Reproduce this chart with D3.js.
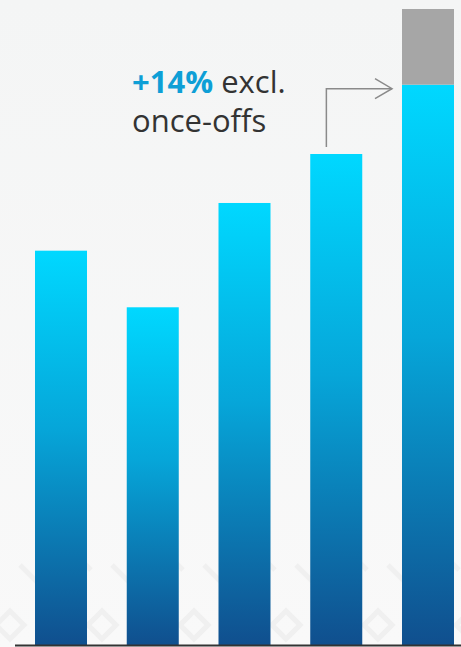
<!DOCTYPE html>
<html><head><meta charset="utf-8">
<script src="https://cdn.jsdelivr.net/npm/d3@7"></script>
<style>html,body{margin:0;padding:0;background:#f6f7f7;}svg{display:block;}</style>
</head><body>
<script>
const categories = ["Y1","Y2","Y3","Y4","Y5"];
const coreValues = [62.0, 53.1, 69.5, 77.2, 88.1];
const onceOffValues = [0, 0, 0, 0, 11.9];
const annotationBold = "+14%";
const annotationRest = " excl.";
const annotationLine2 = "once-offs";

const W = 461, H = 647;
const svg = d3.select("body").append("svg").attr("width", W).attr("height", H);
const defs = svg.append("defs");

const bg = defs.append("linearGradient").attr("id","bg").attr("x1",0).attr("y1",0).attr("x2",0).attr("y2",1);
bg.append("stop").attr("offset","0%").attr("stop-color","#f4f5f5");
bg.append("stop").attr("offset","100%").attr("stop-color","#f9f9f9");
svg.append("rect").attr("width",W).attr("height",H).attr("fill","url(#bg)");

// faint decorative pattern at bottom
const pat = svg.append("g").attr("stroke","#f0f0f0").attr("stroke-width",5).attr("fill","none");
for (let i = 0; i < 12; i++) {
  const cx = i*46 + 10, cy = 625 - (i%2)*20;
  pat.append("path").attr("d", `M${cx},${cy-14} L${cx+14},${cy} L${cx},${cy+14} L${cx-14},${cy} Z`);
  pat.append("path").attr("d", `M${cx+10},${cy-60} L${cx+35},${cy-35}`);
}

const grad = defs.append("linearGradient").attr("id","barGrad").attr("x1",0).attr("y1",0).attr("x2",0).attr("y2",1);
grad.append("stop").attr("offset","0%").attr("stop-color","#00d8ff");
grad.append("stop").attr("offset","45%").attr("stop-color","#06a6d9");
grad.append("stop").attr("offset","100%").attr("stop-color","#104f8e");

const x = d3.scaleBand().domain(categories).range([35, 454]).paddingInner(0.4332).paddingOuter(0);
const y = d3.scaleLinear().domain([0, 100]).range([645, 9]);

const data = categories.map((c,i)=>({c, core: coreValues[i], once: onceOffValues[i]}));

svg.selectAll("rect.core").data(data).join("rect").attr("class","core")
  .attr("x", d=>x(d.c)).attr("width", x.bandwidth())
  .attr("y", d=>y(d.core)).attr("height", d=>y(0)-y(d.core))
  .attr("fill","url(#barGrad)");

svg.selectAll("rect.once").data(data.filter(d=>d.once>0)).join("rect").attr("class","once")
  .attr("x", d=>x(d.c)).attr("width", x.bandwidth())
  .attr("y", d=>y(d.core+d.once)).attr("height", d=>y(d.core)-y(d.core+d.once))
  .attr("fill","#a6a6a6");

// baseline
svg.append("line").attr("x1",15).attr("x2",W).attr("y1",645.5).attr("y2",645.5)
  .attr("stroke","#333").attr("stroke-width",2);

// arrow
const b4 = data[3], b5 = data[4];
const ax = x(b4.c) + x.bandwidth()*0.31;
const ay = y(b5.core) + 4;
svg.append("path")
  .attr("d", `M${ax},${y(b4.core)-7} L${ax},${ay} L${x(b5.c)-10},${ay}`)
  .attr("fill","none").attr("stroke","#8a8a8a").attr("stroke-width",1.5);
svg.append("path")
  .attr("d", `M${x(b5.c)-27},${ay-10} L${x(b5.c)-10},${ay} L${x(b5.c)-27},${ay+10}`)
  .attr("fill","none").attr("stroke","#8a8a8a").attr("stroke-width",1.5);

const t = svg.append("text").attr("x",132).attr("y",93)
  .attr("font-family","'Open Sans', sans-serif").attr("font-size",31).attr("fill","#333");
t.append("tspan").attr("font-weight",700).attr("fill","#0e9fd6").text(annotationBold);
t.append("tspan").text(annotationRest);
svg.append("text").attr("x",132).attr("y",132)
  .attr("font-family","'Open Sans', sans-serif").attr("font-size",31).attr("fill","#333")
  .text(annotationLine2);
</script>
</body></html>
